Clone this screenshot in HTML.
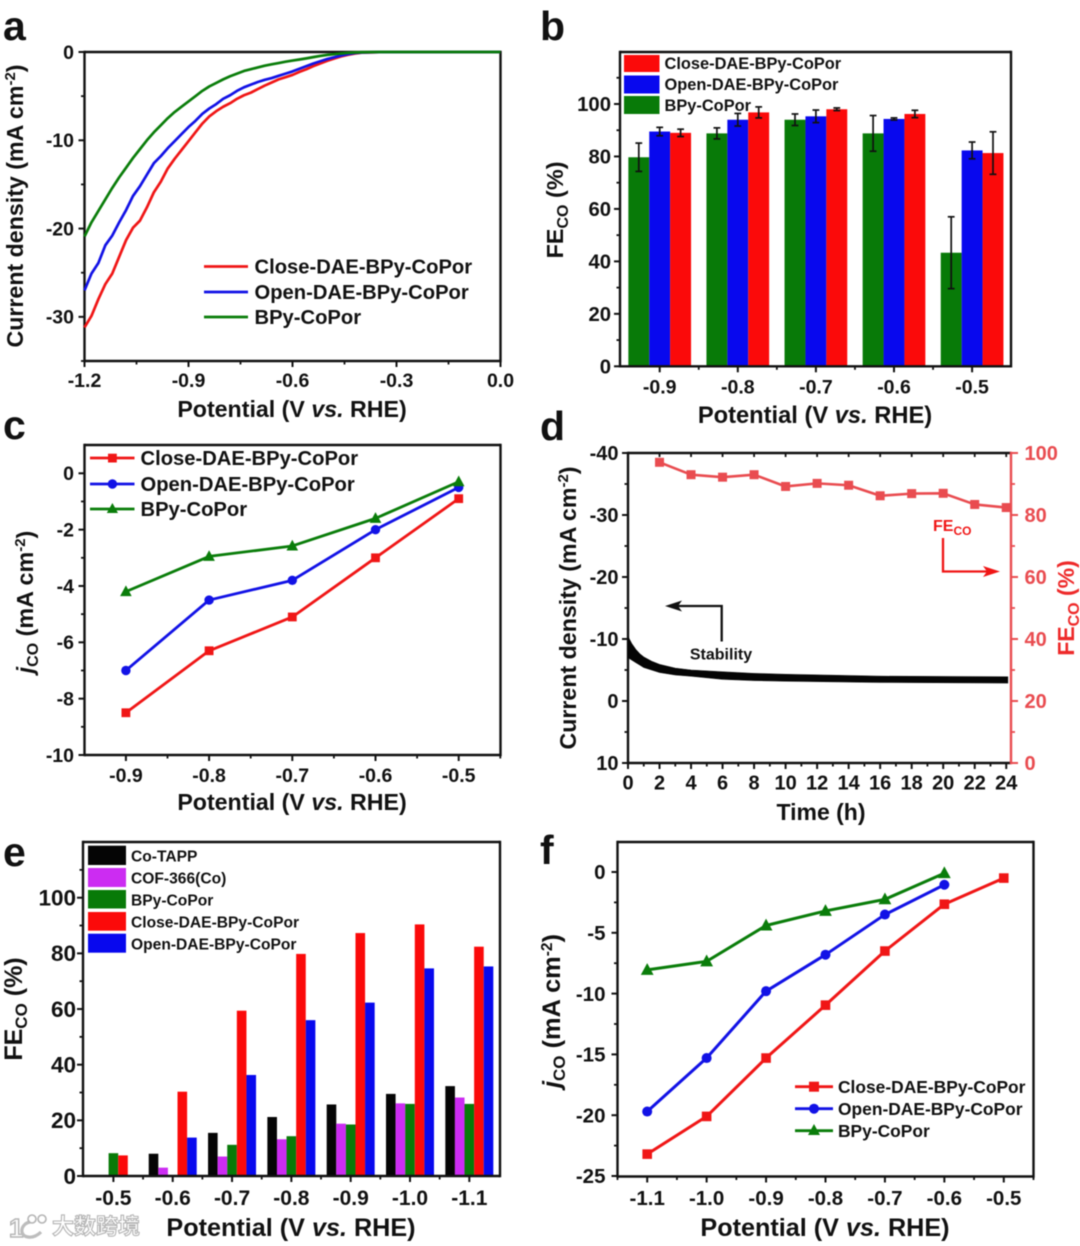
<!DOCTYPE html>
<html lang="en">
<head>
<meta charset="utf-8">
<title>Electrocatalysis figure panels a-f</title>
<style>
html,body{margin:0;padding:0;background:#fff;width:1080px;height:1246px;overflow:hidden}
svg{display:block;filter:blur(.6px)}
text{font-family:"Liberation Sans","Noto Sans CJK SC",sans-serif;font-weight:bold;fill:#111}
.i{font-style:italic}
</style>
</head>
<body>
<svg id="fig" xmlns="http://www.w3.org/2000/svg" width="1080" height="1246" viewBox="0 0 1080 1246">
<rect width="1080" height="1246" fill="#fff"/>

<!-- panel letters -->
<text x="3" y="40" font-size="41">a</text>
<text x="540" y="40" font-size="41">b</text>
<text x="3" y="439" font-size="41">c</text>
<text x="540" y="440" font-size="41">d</text>
<text x="3" y="866" font-size="41">e</text>
<text x="540" y="864" font-size="41">f</text>

<!-- axis titles -->
<text x="292" y="417" font-size="23.2" text-anchor="middle">Potential (V <tspan class="i">vs.</tspan> RHE)</text>
<text transform="translate(23 206) rotate(-90)" font-size="23.2" text-anchor="middle">Current density (mA cm<tspan dy="-8" font-size="15">-2</tspan><tspan dy="8">)</tspan></text>

<text x="815" y="423" font-size="23.7" text-anchor="middle">Potential (V <tspan class="i">vs.</tspan> RHE)</text>
<text transform="translate(563 210) rotate(-90)" font-size="23.5" text-anchor="middle">FE<tspan dy="5" font-size="16">CO</tspan><tspan dy="-5"> (%)</tspan></text>

<text x="292" y="810" font-size="23.2" text-anchor="middle">Potential (V <tspan class="i">vs.</tspan> RHE)</text>
<text transform="translate(33 602) rotate(-90)" font-size="23.3" text-anchor="middle"><tspan class="i">j</tspan><tspan dy="5" font-size="16">CO</tspan><tspan dy="-5"> (mA cm</tspan><tspan dy="-8" font-size="15">-2</tspan><tspan dy="8">)</tspan></text>

<text x="821" y="820" font-size="23" text-anchor="middle">Time (h)</text>
<text transform="translate(576 608) rotate(-90)" font-size="23.2" text-anchor="middle">Current density (mA cm<tspan dy="-8" font-size="15">-2</tspan><tspan dy="8">)</tspan></text>
<text transform="translate(1074 608) rotate(-90)" font-size="23" text-anchor="middle" style="fill:#ee2a2a">FE<tspan dy="5" font-size="16">CO</tspan><tspan dy="-5"> (%)</tspan></text>

<text x="291" y="1236" font-size="25.2" text-anchor="middle">Potential (V <tspan class="i">vs.</tspan> RHE)</text>
<text transform="translate(22 1009) rotate(-90)" font-size="25" text-anchor="middle">FE<tspan dy="5" font-size="17">CO</tspan><tspan dy="-5"> (%)</tspan></text>

<text x="825" y="1236" font-size="25.2" text-anchor="middle">Potential (V <tspan class="i">vs.</tspan> RHE)</text>
<text transform="translate(560 1011) rotate(-90)" font-size="25.4" text-anchor="middle"><tspan class="i">j</tspan><tspan dy="5" font-size="17">CO</tspan><tspan dy="-5"> (mA cm</tspan><tspan dy="-8" font-size="15.5">-2</tspan><tspan dy="8">)</tspan></text>

<!-- watermark -->
<g>
  <text x="9" y="1237" font-size="26" style="fill:#fff;stroke:#b4b4b4;stroke-width:1.4">1</text>
  <path d="M30 1222 C20 1224 19 1236 28 1237 C33 1238 38 1235 41 1232" fill="none" stroke="#bdbdbd" stroke-width="3.2"/>
  <circle cx="32" cy="1219" r="4" fill="none" stroke="#b4b4b4" stroke-width="1.6"/>
  <circle cx="42" cy="1219" r="4" fill="none" stroke="#b4b4b4" stroke-width="1.6"/>
  <text x="52" y="1234" font-size="22" style="fill:#fff;stroke:#b4b4b4;stroke-width:1.1;font-family:'Noto Sans CJK SC',sans-serif">大数跨境</text>
</g>

<g id="marks"></g>

<!-- legend a -->
<g>
  <line x1="204" x2="248" y1="266.5" y2="266.5" stroke="#f01616" stroke-width="2.8"/>
  <text x="254.5" y="273.5" font-size="20.2">Close-DAE-BPy-CoPor</text>
  <line x1="204" x2="248" y1="292" y2="292" stroke="#1212e6" stroke-width="2.8"/>
  <text x="254.5" y="299" font-size="20.2">Open-DAE-BPy-CoPor</text>
  <line x1="204" x2="248" y1="317" y2="317" stroke="#0a7d0a" stroke-width="2.8"/>
  <text x="254.5" y="324" font-size="20.2">BPy-CoPor</text>
</g>

<!-- legend b -->
<g>
  <rect x="624" y="55" width="35.5" height="17" fill="#fb0a0a"/>
  <text x="664.5" y="69" font-size="16.4">Close-DAE-BPy-CoPor</text>
  <rect x="624" y="75.5" width="35.5" height="18" fill="#0808ee"/>
  <text x="664.5" y="90" font-size="16.4">Open-DAE-BPy-CoPor</text>
  <rect x="624" y="96" width="35.5" height="18" fill="#087a08"/>
  <text x="664.5" y="111" font-size="16.4">BPy-CoPor</text>
</g>

<!-- legend c -->
<g>
  <line x1="90" x2="134.5" y1="458" y2="458" stroke="#f01616" stroke-width="2.8"/>
  <rect x="108" y="453.7" width="8.8" height="8.8" fill="#f01616"/>
  <text x="140.5" y="465" font-size="20.2">Close-DAE-BPy-CoPor</text>
  <line x1="90" x2="134.5" y1="484" y2="484" stroke="#1212e6" stroke-width="2.8"/>
  <circle cx="112.4" cy="484" r="4.7" fill="#1212e6"/>
  <text x="140.5" y="491" font-size="20.2">Open-DAE-BPy-CoPor</text>
  <line x1="90" x2="134.5" y1="509" y2="509" stroke="#0a7d0a" stroke-width="2.8"/>
  <polygon points="112.4,503 118,513 106.8,513" fill="#0a7d0a"/>
  <text x="140.5" y="516" font-size="20.2">BPy-CoPor</text>
</g>

<!-- legend e -->
<g>
  <rect x="88" y="845.7" width="38" height="19.3" fill="#050505"/>
  <text x="131" y="861.5" font-size="15.6">Co-TAPP</text>
  <rect x="88" y="868" width="38" height="19" fill="#cc2cf2"/>
  <text x="131" y="883.5" font-size="15.6">COF-366(Co)</text>
  <rect x="88" y="890" width="38" height="18.5" fill="#087a08"/>
  <text x="131" y="905.5" font-size="15.6">BPy-CoPor</text>
  <rect x="88" y="912" width="38" height="18.7" fill="#fb0a0a"/>
  <text x="131" y="927.5" font-size="15.6">Close-DAE-BPy-CoPor</text>
  <rect x="88" y="933.7" width="38" height="19" fill="#0808ee"/>
  <text x="131" y="949.5" font-size="15.6">Open-DAE-BPy-CoPor</text>
</g>

<!-- legend f -->
<g>
  <line x1="795" x2="833" y1="1086.7" y2="1086.7" stroke="#f01616" stroke-width="2.8"/>
  <rect x="809" y="1081.7" width="10" height="10" fill="#f01616"/>
  <text x="838" y="1093" font-size="17.4">Close-DAE-BPy-CoPor</text>
  <line x1="795" x2="833" y1="1108.7" y2="1108.7" stroke="#1212e6" stroke-width="2.8"/>
  <circle cx="814" cy="1108.7" r="5" fill="#1212e6"/>
  <text x="838" y="1115" font-size="17.4">Open-DAE-BPy-CoPor</text>
  <line x1="795" x2="833" y1="1130.7" y2="1130.7" stroke="#0a7d0a" stroke-width="2.8"/>
  <polygon points="814,1124 820,1135 808,1135" fill="#0a7d0a"/>
  <text x="838" y="1137" font-size="17.4">BPy-CoPor</text>
</g>

<!-- d annotations -->
<g>
  <text x="933" y="531" font-size="16" style="fill:#f01616">FE<tspan dy="4" font-size="12">CO</tspan></text>
  <path d="M943 538 V571.5 H990" fill="none" stroke="#f01616" stroke-width="2.3"/>
  <polygon points="1000,571.5 983,566 987,571.5 983,577" fill="#f01616"/>
  <path d="M721.7 641.5 V606 H675" fill="none" stroke="#111" stroke-width="2.3"/>
  <polygon points="665,606 682,600.5 678,606 682,611.5" fill="#111"/>
  <text x="721" y="659.5" font-size="16" text-anchor="middle">Stability</text>
</g>
</svg>

<script>
// ---- Panel a: polarisation curves ----
const aPotential = [-1.2,-1.18,-1.16,-1.14,-1.12,-1.1,-1.08,-1.06,-1.04,-1.02,-1,-0.98,-0.96,-0.94,-0.92,-0.9,-0.88,-0.86,-0.84,-0.82,-0.8,-0.78,-0.76,-0.74,-0.72,-0.7,-0.68,-0.66,-0.64,-0.62,-0.6,-0.58,-0.56,-0.54,-0.52,-0.5,-0.48,-0.46,-0.44,-0.42,-0.4,-0.35,0];
const aClose = [-31.2,-29.9,-28,-26.3,-25.1,-23.2,-21.3,-19.9,-19.1,-17.6,-15.9,-14.7,-13.2,-12.1,-11.1,-10.1,-9.1,-8.1,-7.3,-6.7,-6.2,-5.8,-5.3,-4.9,-4.6,-4.2,-3.8,-3.45,-3.1,-2.85,-2.6,-2.25,-1.95,-1.6,-1.3,-1,-0.75,-0.5,-0.32,-0.17,-0.08,-0.02,0];
const aOpen = [-27,-25.1,-23.9,-21.9,-20.8,-19.3,-17.9,-16.3,-15.2,-13.9,-12.6,-11.8,-10.9,-10.1,-9.3,-8.5,-7.8,-7,-6.4,-5.9,-5.3,-4.9,-4.4,-4,-3.7,-3.4,-3.15,-2.95,-2.7,-2.45,-2.2,-1.9,-1.6,-1.3,-1.05,-0.8,-0.6,-0.4,-0.25,-0.12,-0.06,-0.01,0];
const aBpy = [-20.9,-19.3,-18,-16.7,-15.4,-14.2,-13.1,-12,-11,-10,-9.1,-8.3,-7.5,-6.8,-6.2,-5.6,-5,-4.4,-3.9,-3.5,-3.1,-2.75,-2.45,-2.15,-1.95,-1.75,-1.55,-1.4,-1.25,-1.1,-0.97,-0.85,-0.72,-0.58,-0.45,-0.33,-0.25,-0.17,-0.1,-0.06,-0.03,0,0];
const aXTicks = [-1.2,-0.9,-0.6,-0.3,0];
const aXTickLabels = ['-1.2','-0.9','-0.6','-0.3','0.0'];
const aXMinor = [-1.05,-0.75,-0.45,-0.15];
const aYTicks = [0,-10,-20,-30];
const aYTickLabels = ['0','-10','-20','-30'];
const aYMinor = [-5,-15,-25,-35];

// ---- Panel b: FE bars ----
const bCategories = [-0.9,-0.8,-0.7,-0.6,-0.5];
const bCategoryLabels = ['-0.9','-0.8','-0.7','-0.6','-0.5'];
const bBpy = [79.7,88.8,94,88.8,43.3];
const bOpen = [89.5,94,95.3,94.3,82.3];
const bClose = [89,96.8,98,96.2,81.3];
const bBpyErr = [5.4,2.1,2.2,6.8,13.7];
const bOpenErr = [1.6,2.4,2.4,0.4,3.2];
const bCloseErr = [1.4,2.1,0.5,1.4,8.1];
const bYTicks = [0,20,40,60,80,100];
const bYTickLabels = ['0','20','40','60','80','100'];
const bYMinor = [10,30,50,70,90,110];
const bXMinor = [-0.85,-0.75,-0.65,-0.55];

// ---- Panel c: jCO lines ----
const cPotential = [-0.9,-0.8,-0.7,-0.6,-0.5];
const cPotentialLabels = ['-0.9','-0.8','-0.7','-0.6','-0.5'];
const cClose = [-8.5,-6.3,-5.1,-3,-0.9];
const cOpen = [-7,-4.5,-3.8,-2,-0.5];
const cBpy = [-4.2,-2.95,-2.58,-1.6,-0.3];
const cYTicks = [0,-2,-4,-6,-8,-10];
const cYTickLabels = ['0','-2','-4','-6','-8','-10'];
const cYMinor = [-1,-3,-5,-7,-9];
const cXMinor = [-0.85,-0.75,-0.65,-0.55,-0.45];

// ---- Panel d: stability ----
const dTime = [2,4,6,8,10,12,14,16,18,20,22,24];
const dFe = [97,93,92.2,93,89.2,90.2,89.6,86.2,86.9,87,83.4,82.4];
const dStabTime = [0,0.25,0.5,0.75,1,1.5,2,3,4,6,8,10,16,24.1];
const dStabUpper = [-10.4,-9.2,-8.3,-7.6,-7.1,-6.4,-5.9,-5.3,-5,-4.7,-4.45,-4.3,-4,-3.9];
const dStabLower = [-7,-6.6,-6.2,-5.8,-5.4,-5,-4.6,-4.2,-4,-3.5,-3.3,-3.2,-3,-2.9];
const dXTicks = [0,2,4,6,8,10,12,14,16,18,20,22,24];
const dXTickLabels = ['0','2','4','6','8','10','12','14','16','18','20','22','24'];
const dXMinor = [1,3,5,7,9,11,13,15,17,19,21,23];
const dLeftTicks = [-40,-30,-20,-10,0,10];
const dLeftTickLabels = ['-40','-30','-20','-10','0','10'];
const dLeftMinor = [-35,-25,-15,-5,5];
const dRightTicks = [100,80,60,40,20,0];
const dRightTickLabels = ['100','80','60','40','20','0'];
const dRightMinor = [90,70,50,30,10];

// ---- Panel e: FE comparison bars ----
const eCategories = [-0.5,-0.6,-0.7,-0.8,-0.9,-1,-1.1];
const eCategoryLabels = ['-0.5','-0.6','-0.7','-0.8','-0.9','-1.0','-1.1'];
const eCoTapp = [0.3,8,15.5,21.2,25.7,29.5,32.3];
const eCof366 = [0.3,3,7,13.2,18.8,26.1,28.2];
const eBpy = [8.2,0,11.2,14.3,18.5,25.9,25.9];
const eClose = [7.4,30.3,59.4,79.8,87.3,90.4,82.4];
const eOpen = [0,13.8,36.3,56,62.3,74.6,75.3];
const eYTicks = [0,20,40,60,80,100];
const eYTickLabels = ['0','20','40','60','80','100'];
const eYMinor = [10,30,50,70,90,110];
const eXMinor = [-0.55,-0.65,-0.75,-0.85,-0.95,-1.05];

// ---- Panel f: jCO lines ----
const fPotential = [-1.1,-1,-0.9,-0.8,-0.7,-0.6,-0.5];
const fPotentialLabels = ['-1.1','-1.0','-0.9','-0.8','-0.7','-0.6','-0.5'];
const fClose = [-23.2,-20.1,-15.3,-10.95,-6.5,-2.65,-0.5];
const fOpen = [-19.7,-15.3,-9.8,-6.8,-3.5,-1.05];
const fBpy = [-8.05,-7.35,-4.4,-3.2,-2.25,-0.1];
const fYTicks = [0,-5,-10,-15,-20,-25];
const fYTickLabels = ['0','-5','-10','-15','-20','-25'];
const fYMinor = [-2.5,-7.5,-12.5,-17.5,-22.5];
const fXMinor = [-1.05,-0.95,-0.85,-0.75,-0.65,-0.55,-1.15,-0.45];

// ---- drawing helpers ----
const NS = 'http://www.w3.org/2000/svg';
const root = document.getElementById('marks');
const RED = '#f01616', BLUE = '#1212e6', GREEN = '#0a7d0a';
const BARRED = '#fb0a0a', BARBLUE = '#0808ee', BARGREEN = '#087a08';
const PINK = '#e94c50';

function shape(tag, attrs, name) {
  const el = document.createElementNS(NS, tag);
  for (const k in attrs) el.setAttribute(k, attrs[k]);
  
  
  root.appendChild(el);
  return el;
}
function label(str, x, y, size, anchor, color, name) {
  const el = shape('text', {x: x, y: y, 'font-size': size, 'text-anchor': anchor}, name);
  if (color) el.style.fill = color;
  el.textContent = str;
  return el;
}
function frame(p, name, w, rightColor) {
  shape('line', {x1: p.l, x2: p.r, y1: p.t, y2: p.t, stroke: '#111', 'stroke-width': w}, name + '-top-axis');
  shape('line', {x1: p.l, x2: p.r, y1: p.b, y2: p.b, stroke: '#111', 'stroke-width': w}, name + '-bottom-axis');
  shape('line', {x1: p.l, x2: p.l, y1: p.t - w / 2, y2: p.b + w / 2, stroke: '#111', 'stroke-width': w}, name + '-left-axis');
  shape('line', {x1: p.r, x2: p.r, y1: p.t - w / 2, y2: p.b + w / 2, stroke: rightColor || '#111', 'stroke-width': w}, name + '-right-axis');
}
function xTicks(vals, labels, minor, fx, p, o, name) {
  vals.forEach((v, i) => {
    shape('line', {x1: fx(v), x2: fx(v), y1: p.b, y2: p.b + 6, stroke: '#111', 'stroke-width': 2}, name + '-x-tick');
    label(labels[i], fx(v), o.base, o.size, 'middle', null, name + '-x-tick-label');
  });
  minor.forEach(v => {
    shape('line', {x1: fx(v), x2: fx(v), y1: p.b, y2: p.b + 3.5, stroke: '#111', 'stroke-width': 1.8}, name + '-x-minor-tick');
  });
}
function yTicks(vals, labels, minor, fy, p, o, name) {
  vals.forEach((v, i) => {
    shape('line', {x1: p.l - 6, x2: p.l, y1: fy(v), y2: fy(v), stroke: '#111', 'stroke-width': 2}, name + '-y-tick');
    label(labels[i], o.right, fy(v) + o.size * 0.35, o.size, 'end', null, name + '-y-tick-label');
  });
  minor.forEach(v => {
    shape('line', {x1: p.l - 3.5, x2: p.l, y1: fy(v), y2: fy(v), stroke: '#111', 'stroke-width': 1.8}, name + '-y-minor-tick');
  });
}
function polyline(xs, ys, fx, fy, color, w, name) {
  const pts = ys.map((v, i) => fx(xs[i]) + ',' + fy(v)).join(' ');
  return shape('polyline', {points: pts, fill: 'none', stroke: color, 'stroke-width': w, 'stroke-linejoin': 'round'}, name);
}
function squares(xs, ys, fx, fy, color, s, name) {
  ys.forEach((v, i) => {
    shape('rect', {x: fx(xs[i]) - s / 2, y: fy(v) - s / 2, width: s, height: s, fill: color}, name);
  });
}
function circles(xs, ys, fx, fy, color, r, name) {
  ys.forEach((v, i) => {
    shape('circle', {cx: fx(xs[i]), cy: fy(v), r: r, fill: color}, name);
  });
}
function triangles(xs, ys, fx, fy, color, s, name) {
  ys.forEach((v, i) => {
    const x = fx(xs[i]), y = fy(v);
    shape('polygon', {points: x + ',' + (y - s * 0.62) + ' ' + (x + s * 0.58) + ',' + (y + s * 0.45) + ' ' + (x - s * 0.58) + ',' + (y + s * 0.45), fill: color}, name);
  });
}

// ---- panel a ----
(function () {
  const p = {l: 84.5, r: 500.5, t: 52, b: 361};
  const fx = v => p.l + (v + 1.2) * (p.r - p.l) / 1.2;
  const fy = v => p.t - v * (p.b - p.t) / 35;
  frame(p, 'a', 2.4);
  xTicks(aXTicks, aXTickLabels, aXMinor, fx, p, {base: 387, size: 19.5}, 'a');
  yTicks(aYTicks, aYTickLabels, aYMinor, fy, p, {right: 74, size: 19.5}, 'a');
  polyline(aPotential, aClose, fx, fy, RED, 2.7, 'a-line-close-dae-bpy-copor');
  polyline(aPotential, aOpen, fx, fy, BLUE, 2.7, 'a-line-open-dae-bpy-copor');
  polyline(aPotential, aBpy, fx, fy, GREEN, 2.7, 'a-line-bpy-copor');
})();

// ---- panel b ----
(function () {
  const p = {l: 620, r: 1011, t: 52, b: 366.3};
  const fx = v => 659.7 + (v + 0.9) * 781;
  const fy = v => p.b - v * 2.623;
  const w = 20.9;
  const series = [[bBpy, bBpyErr, BARGREEN, 'bpy'], [bOpen, bOpenErr, BARBLUE, 'open'], [bClose, bCloseErr, BARRED, 'close']];
  series.forEach((s, si) => {
    s[0].forEach((v, i) => {
      const x = fx(bCategories[i]) + (si - 1.5) * w;
      shape('rect', {x: x, y: fy(v), width: w, height: p.b - fy(v), fill: s[2]}, 'b-bar-' + s[3]);
    });
  });
  series.forEach((s, si) => {
    s[0].forEach((v, i) => {
      const x = fx(bCategories[i]) + (si - 1) * w;
      const e = s[1][i];
      shape('line', {x1: x, x2: x, y1: fy(v + e), y2: fy(v - e), stroke: '#111', 'stroke-width': 1.7}, 'b-error-bar-' + s[3]);
      shape('line', {x1: x - 3.4, x2: x + 3.4, y1: fy(v + e), y2: fy(v + e), stroke: '#111', 'stroke-width': 1.7}, 'b-error-cap-' + s[3]);
      shape('line', {x1: x - 3.4, x2: x + 3.4, y1: fy(v - e), y2: fy(v - e), stroke: '#111', 'stroke-width': 1.7}, 'b-error-cap-' + s[3]);
    });
  });
  frame(p, 'b', 2.4);
  xTicks(bCategories, bCategoryLabels, bXMinor, fx, p, {base: 393.5, size: 19.5}, 'b');
  yTicks(bYTicks, bYTickLabels, bYMinor, fy, p, {right: 611, size: 20.3}, 'b');
})();

// ---- panel c ----
(function () {
  const p = {l: 84.5, r: 500.5, t: 445, b: 755};
  const fx = v => 125.9 + (v + 0.9) * 832;
  const fy = v => 473.3 - v * 28.17;
  frame(p, 'c', 2.4);
  xTicks(cPotential, cPotentialLabels, cXMinor, fx, p, {base: 782, size: 19.5}, 'c');
  yTicks(cYTicks, cYTickLabels, cYMinor, fy, p, {right: 74, size: 19.5}, 'c');
  polyline(cPotential, cClose, fx, fy, RED, 2.8, 'c-line-close-dae-bpy-copor');
  polyline(cPotential, cOpen, fx, fy, BLUE, 2.8, 'c-line-open-dae-bpy-copor');
  polyline(cPotential, cBpy, fx, fy, GREEN, 2.8, 'c-line-bpy-copor');
  squares(cPotential, cClose, fx, fy, RED, 8.8, 'c-point-close');
  circles(cPotential, cOpen, fx, fy, BLUE, 4.7, 'c-point-open');
  triangles(cPotential, cBpy, fx, fy, GREEN, 10, 'c-point-bpy');
})();

// ---- panel d ----
(function () {
  const p = {l: 628, r: 1011, t: 453, b: 763};
  const fx = v => 628 + v * 15.76;
  const fyL = v => p.t + (v + 40) * 6.2;
  const fyR = v => p.b - v * 3.1;
  frame(p, 'd', 2.4, PINK);
  xTicks(dXTicks, dXTickLabels, dXMinor, fx, p, {base: 789.5, size: 20}, 'd');
  dXTicks.forEach(v => {
    shape('line', {x1: fx(v), x2: fx(v), y1: p.t, y2: p.t + 4, stroke: '#111', 'stroke-width': 1.8}, 'd-top-tick');
  });
  yTicks(dLeftTicks, dLeftTickLabels, dLeftMinor, fyL, p, {right: 618.5, size: 20}, 'd-left');
  dRightTicks.forEach((v, i) => {
    shape('line', {x1: p.r, x2: p.r + 7, y1: fyR(v), y2: fyR(v), stroke: PINK, 'stroke-width': 2}, 'd-right-y-tick');
    label(dRightTickLabels[i], 1024.5, fyR(v) + 7, 20, 'start', PINK, 'd-right-y-tick-label');
  });
  dRightMinor.forEach(v => {
    shape('line', {x1: p.r, x2: p.r + 4, y1: fyR(v), y2: fyR(v), stroke: PINK, 'stroke-width': 1.8}, 'd-right-y-minor-tick');
  });
  const upper = dStabUpper.map((v, i) => fx(dStabTime[i]) + ',' + fyL(v));
  const lower = dStabLower.map((v, i) => fx(dStabTime[i]) + ',' + fyL(v)).reverse();
  shape('polygon', {points: upper.concat(lower).join(' '), fill: '#050505', stroke: '#050505', 'stroke-width': 0.6}, 'd-stability-current-band');
  polyline(dTime, dFe, fx, fyR, PINK, 2.6, 'd-line-feco');
  squares(dTime, dFe, fx, fyR, PINK, 9, 'd-point-feco');
})();

// ---- panel e ----
(function () {
  const p = {l: 83, r: 500, t: 842, b: 1176};
  const fx = v => 113.4 + (-0.5 - v) * 593.2;
  const fy = v => p.b - v * 2.783;
  const w = 9.6;
  const series = [[eCoTapp, '#050505', 'co-tapp'], [eCof366, '#cc2cf2', 'cof-366'], [eBpy, BARGREEN, 'bpy'], [eClose, BARRED, 'close'], [eOpen, BARBLUE, 'open']];
  series.forEach((s, si) => {
    s[0].forEach((v, i) => {
      const x = fx(eCategories[i]) + (si - 2.5) * w;
      shape('rect', {x: x, y: fy(v), width: w, height: p.b - fy(v), fill: s[1]}, 'e-bar-' + s[2]);
    });
  });
  frame(p, 'e', 2.4);
  xTicks(eCategories, eCategoryLabels, eXMinor, fx, p, {base: 1205, size: 21}, 'e');
  yTicks(eYTicks, eYTickLabels, eYMinor, fy, p, {right: 76, size: 22.5}, 'e');
})();

// ---- panel f ----
(function () {
  const p = {l: 617.5, r: 1033.5, t: 842, b: 1176.5};
  const fx = v => 647.2 + (v + 1.1) * 594.3;
  const fy = v => 872 - v * 12.16;
  frame(p, 'f', 2.4);
  xTicks(fPotential, fPotentialLabels, fXMinor, fx, p, {base: 1205, size: 20.5}, 'f');
  yTicks(fYTicks, fYTickLabels, fYMinor, fy, p, {right: 605.5, size: 20.5}, 'f');
  polyline(fPotential, fClose, fx, fy, RED, 3, 'f-line-close-dae-bpy-copor');
  polyline(fPotential, fOpen, fx, fy, BLUE, 3, 'f-line-open-dae-bpy-copor');
  polyline(fPotential, fBpy, fx, fy, GREEN, 3, 'f-line-bpy-copor');
  squares(fPotential, fClose, fx, fy, RED, 9.6, 'f-point-close');
  circles(fPotential, fOpen, fx, fy, BLUE, 5, 'f-point-open');
  triangles(fPotential, fBpy, fx, fy, GREEN, 11, 'f-point-bpy');
})();
</script>
</body>
</html>
